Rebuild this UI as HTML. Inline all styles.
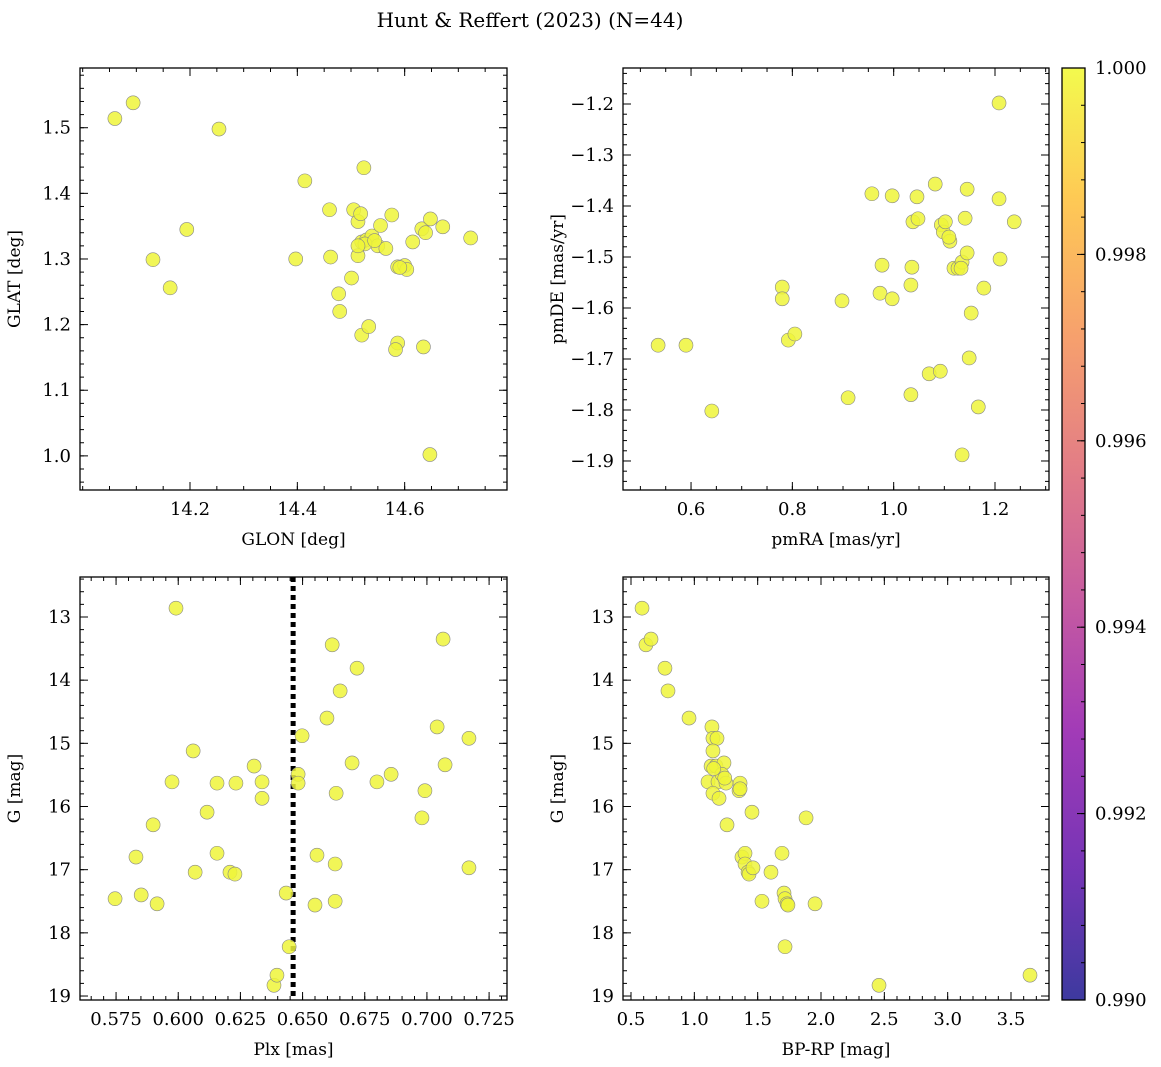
<!DOCTYPE html>
<html><head><meta charset="utf-8"><style>
body{margin:0;background:#fff}
svg{display:block;font-family:"DejaVu Serif","Liberation Serif",serif}
</style></head><body>
<svg id="fig" width="1161" height="1067" viewBox="0 0 1161 1067">
<defs><linearGradient id="plasma" x1="0" y1="1" x2="0" y2="0">
<stop offset="0" stop-color="#0d0887"/><stop offset="0.14" stop-color="#5302a3"/><stop offset="0.29" stop-color="#8b0aa5"/><stop offset="0.43" stop-color="#b83289"/><stop offset="0.57" stop-color="#db5c68"/><stop offset="0.71" stop-color="#f48849"/><stop offset="0.86" stop-color="#febc2a"/><stop offset="1" stop-color="#f0f921"/></linearGradient></defs>
<text x="530" y="27" font-size="20" text-anchor="middle">Hunt &amp; Reffert (2023) (N=44)</text>
</svg>
<script>
const glon=[14.060,14.094,14.254,14.194,14.131,14.163,14.414,14.397,14.460,14.462,14.477,14.479,14.501,14.505,14.513,14.513,14.518,14.524,14.520,14.520,14.533,14.529,14.539,14.550,14.555,14.565,14.576,14.587,14.587,14.583,14.600,14.604,14.615,14.632,14.639,14.648,14.671,14.635,14.647,14.723,14.526,14.544,14.513,14.591];
const glat=[1.514,1.538,1.498,1.345,1.299,1.256,1.419,1.300,1.375,1.303,1.247,1.220,1.271,1.375,1.357,1.305,1.369,1.439,1.326,1.184,1.197,1.329,1.335,1.320,1.351,1.316,1.367,1.288,1.172,1.162,1.290,1.284,1.326,1.346,1.340,1.361,1.349,1.166,1.002,1.332,1.323,1.328,1.320,1.287];
const pmra=[0.535,0.590,0.641,0.780,0.780,0.792,0.805,0.898,0.910,0.957,0.977,0.973,0.997,0.997,1.034,1.036,1.034,1.038,1.046,1.048,1.082,1.070,1.092,1.094,1.098,1.102,1.111,1.119,1.127,1.135,1.141,1.145,1.145,1.149,1.153,1.167,1.135,1.178,1.208,1.208,1.210,1.238,1.133,1.109];
const pmde=[-1.673,-1.673,-1.802,-1.559,-1.582,-1.663,-1.651,-1.586,-1.776,-1.376,-1.516,-1.571,-1.380,-1.582,-1.555,-1.520,-1.770,-1.431,-1.382,-1.425,-1.357,-1.729,-1.724,-1.437,-1.451,-1.431,-1.469,-1.522,-1.522,-1.510,-1.424,-1.492,-1.367,-1.698,-1.610,-1.794,-1.888,-1.561,-1.198,-1.386,-1.504,-1.431,-1.522,-1.461];
const plx=[0.5746,0.5851,0.5830,0.5915,0.5899,0.5975,0.5991,0.6060,0.6068,0.6116,0.6156,0.6156,0.6208,0.6228,0.6232,0.6305,0.6337,0.6337,0.6385,0.6397,0.6434,0.6446,0.6482,0.6482,0.6498,0.6550,0.6558,0.6598,0.6619,0.6631,0.6635,0.6631,0.6651,0.6699,0.6719,0.6799,0.6856,0.6980,0.6992,0.7041,0.7065,0.7073,0.7169,0.7169];
const gmagA=[17.46,17.40,16.80,17.54,16.29,15.61,12.86,15.12,17.04,16.09,15.63,16.74,17.04,17.07,15.63,15.36,15.61,15.87,18.83,18.67,17.37,18.22,15.49,15.63,14.88,17.56,16.77,14.60,13.44,16.91,15.79,17.50,14.17,15.31,13.81,15.61,15.49,16.18,15.75,14.74,13.35,15.34,14.92,16.97];
const bprp=[0.587,0.618,0.658,0.768,0.792,0.958,1.139,1.147,1.179,1.147,1.132,1.171,1.234,1.108,1.187,1.218,1.250,1.361,1.353,1.147,1.195,1.455,1.258,1.882,1.376,1.400,1.400,1.424,1.432,1.463,1.605,1.692,1.708,1.716,1.732,1.739,1.953,1.534,1.716,2.458,3.650,1.361,1.153,1.240];
const gmagB=[12.86,13.44,13.35,13.81,14.17,14.60,14.74,14.92,14.92,15.12,15.36,15.36,15.31,15.61,15.61,15.49,15.63,15.63,15.75,15.79,15.87,16.09,16.29,16.18,16.80,16.74,16.91,17.04,17.07,16.97,17.04,16.74,17.37,17.46,17.54,17.56,17.54,17.50,18.22,18.83,18.67,15.72,15.40,15.55];
const plxRef=0.6462;
const cbTicks=[0.990,0.992,0.994,0.996,0.998,1.000];

const NS='http://www.w3.org/2000/svg',svg=document.getElementById('fig');
function mk(t,a,p){const e=document.createElementNS(NS,t);for(const k in a)e.setAttribute(k,a[k]);(p||svg).appendChild(e);return e;}
function panel(o){
 const g=mk('g',{});
 
 
 const sx=v=>o.x0+(v-o.xr[0])/(o.xr[1]-o.xr[0])*(o.x1-o.x0);
 const sy=v=>{let t=(v-o.yr[0])/(o.yr[1]-o.yr[0]);if(o.inv)t=1-t;return o.y1-t*(o.y1-o.y0);};
 const eps=1e-9;
 for(let v=Math.ceil(o.xr[0]/o.xmin-eps)*o.xmin;v<=o.xr[1]+eps;v+=o.xmin){const X=sx(v);mk('line',{x1:X,x2:X,y1:o.y1,y2:o.y1-4,stroke:'#000'},g);mk('line',{x1:X,x2:X,y1:o.y0,y2:o.y0+4,stroke:'#000'},g);}
 for(let v=Math.ceil(o.yr[0]/o.ymin-eps)*o.ymin;v<=o.yr[1]+eps;v+=o.ymin){const Y=sy(v);mk('line',{x1:o.x0,x2:o.x0+4,y1:Y,y2:Y,stroke:'#000'},g);mk('line',{x1:o.x1,x2:o.x1-4,y1:Y,y2:Y,stroke:'#000'},g);}
 o.xt.forEach(v=>{const X=sx(v);mk('line',{x1:X,x2:X,y1:o.y1,y2:o.y1-8,stroke:'#000'},g);mk('line',{x1:X,x2:X,y1:o.y0,y2:o.y0+8,stroke:'#000'},g);
  const t=mk('text',{x:X,y:o.y1+25,'font-size':18,'text-anchor':'middle'},g);t.textContent=v.toFixed(o.xd);
  
  });
 o.yt.forEach(v=>{const Y=sy(v);mk('line',{x1:o.x0,x2:o.x0+8,y1:Y,y2:Y,stroke:'#000'},g);mk('line',{x1:o.x1,x2:o.x1-8,y1:Y,y2:Y,stroke:'#000'},g);
  const t=mk('text',{x:o.x0-9,y:Y+6,'font-size':18,'text-anchor':'end'},g);t.textContent=(v<0?'\u2212':'')+Math.abs(v).toFixed(o.yd);
  
  });
 if(o.vline!==undefined){const X=sx(o.vline);const l=mk('line',{x1:X,x2:X,y1:o.y0,y2:o.y1,stroke:'#000','stroke-width':5,'stroke-dasharray':'5,4'},g);
  
  }
 o.xs.forEach((v,i)=>{const c=mk('circle',{cx:sx(v),cy:sy(o.ys[i]),r:7,fill:'#eef53a','fill-opacity':0.85,stroke:'#888','stroke-width':0.6},g);
  
  });
 const r=mk('rect',{x:o.x0,y:o.y0,width:o.x1-o.x0,height:o.y1-o.y0,fill:'none',stroke:'#000','stroke-width':1.3},g);
 
 
 const xl=mk('text',{x:(o.x0+o.x1)/2,y:o.y1+55,'font-size':17,'text-anchor':'middle'},g);xl.textContent=o.xlab;
 
 
 const yc=(o.y0+o.y1)/2,yx=o.x0-60;
 const yl=mk('text',{x:yx,y:yc,'font-size':17,'text-anchor':'middle',transform:`rotate(-90 ${yx} ${yc})`},g);yl.textContent=o.ylab;
 
 
}
panel({name:'glon-glat-panel',x0:80,x1:507,y0:68,y1:490,xr:[13.995,14.7907],yr:[0.948,1.591],xt:[14.2,14.4,14.6],yt:[1.0,1.1,1.2,1.3,1.4,1.5],xd:1,yd:1,xmin:0.05,ymin:0.02,xs:glon,ys:glat,xlab:'GLON [deg]',ylab:'GLAT [deg]'});
panel({name:'pm-panel',x0:623,x1:1049,y0:68,y1:490,xr:[0.4657,1.3066],yr:[-1.9569,-1.1294],xt:[0.6,0.8,1.0,1.2],yt:[-1.9,-1.8,-1.7,-1.6,-1.5,-1.4,-1.3,-1.2],xd:1,yd:1,xmin:0.05,ymin:0.02,xs:pmra,ys:pmde,xlab:'pmRA [mas/yr]',ylab:'pmDE [mas/yr]'});
panel({name:'plx-g-panel',x0:80,x1:507,y0:577,y1:1000,xr:[0.5605,0.7322],yr:[12.367,19.063],inv:true,xt:[0.575,0.6,0.625,0.65,0.675,0.7,0.725],yt:[13,14,15,16,17,18,19],xd:3,yd:0,xmin:0.005,ymin:0.2,xs:plx,ys:gmagA,vline:plxRef,xlab:'Plx [mas]',ylab:'G [mag]'});
panel({name:'cmd-panel',x0:623,x1:1049,y0:577,y1:1000,xr:[0.4368,3.80],yr:[12.367,19.063],inv:true,xt:[0.5,1,1.5,2,2.5,3,3.5],yt:[13,14,15,16,17,18,19],xd:1,yd:0,xmin:0.1,ymin:0.2,xs:bprp,ys:gmagB,xlab:'BP-RP [mag]',ylab:'G [mag]'});
// colorbar
const cb=mk('g',{});


mk('rect',{x:1062,y:68,width:23,height:932,fill:'url(#plasma)','fill-opacity':0.8},cb);
mk('rect',{x:1062,y:68,width:23,height:932,fill:'none',stroke:'#000','stroke-width':1.3},cb);
const cy=v=>1000-(v-0.990)/0.010*932;
for(let v=0.990;v<=1.00001;v+=0.0004){mk('line',{x1:1085,x2:1081,y1:cy(v),y2:cy(v),stroke:'#000'},cb);}
cbTicks.forEach(v=>{mk('line',{x1:1085,x2:1077,y1:cy(v),y2:cy(v),stroke:'#000'},cb);
 const t=mk('text',{x:1095,y:cy(v)+6,'font-size':18},cb);t.textContent=v.toFixed(3);
 
 });
</script>
</body></html>
